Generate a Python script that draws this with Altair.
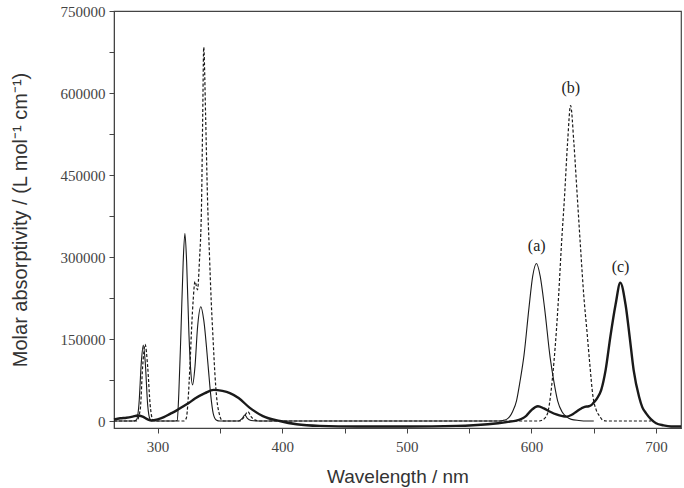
import altair as alt
import pandas as pd

# Spectrum (a): thin solid line
a_nm = [265, 280, 283, 285, 287, 288.5, 290, 292, 294, 296,
        314, 315.7, 317, 318.7, 320.5, 321.9, 323.3, 325.1, 326.5, 328, 330, 332, 334.7, 337, 340.6, 342.5, 344.6, 347, 350,
        365, 368, 370, 372, 375, 380,
        572, 577, 580, 582.5, 585, 588, 591, 594, 598, 601, 604, 607, 610.5, 615, 618, 621, 624.5, 628, 632, 638, 645, 650]
a_eps = [0, 0, 2000, 30000, 110000, 139000, 110000, 30000, 3000, 0,
         0, 1000, 50000, 161000, 290000, 343000, 290000, 161000, 95000, 66000, 100000, 170000, 209000, 185000, 99000, 50000, 14000, 2000, 0,
         0, 5000, 11000, 5000, 1000, 0,
         0, 1000, 3000, 8000, 18000, 37000, 75000, 120000, 207000, 265000, 288000, 265000, 207000, 116000, 72000, 37000, 17000, 8000, 3000, 1000, 0, 0]

# Spectrum (b): dashed line
b_nm = [265, 283, 286, 288, 290, 292, 294, 296, 298,
        321, 323, 324.5, 325.9, 327.5, 328.5, 330, 332, 333.5, 335.3, 336.2, 337, 338.5, 340, 341.5, 343, 344.5, 346, 347.5, 349.4, 351, 353,
        366, 369, 372.5, 375, 378, 382,
        606, 609, 611, 613.3, 615.5, 618, 620, 621.8, 624, 626.6, 629, 631.4, 634, 636.7, 639.3, 642, 644.5, 646.7, 649.3, 652, 654.7, 657, 660, 696]
b_eps = [0, 0, 20000, 100000, 140000, 100000, 30000, 3000, 0,
         0, 5000, 40000, 99000, 180000, 220000, 255000, 240000, 290000, 404000, 560000, 684000, 560000, 410000, 310000, 220000, 150000, 85000, 40000, 14000, 3000, 0,
         0, 6000, 17000, 8000, 2000, 0,
         0, 2000, 6000, 17000, 50000, 107000, 165000, 229000, 320000, 413000, 510000, 577000, 510000, 413000, 320000, 229000, 165000, 107000, 46000, 20000, 9000, 2000, 0, 0]

# Spectrum (c): thick solid line
c_nm = [265, 270, 275, 280, 284, 288, 292, 295, 300, 305, 310, 315, 320, 325, 330, 338, 345, 352, 358, 365, 374, 384.5, 398,
        411.5, 430, 460, 500, 540, 565, 580, 590, 593, 596, 600, 605.2, 610, 615, 620, 625, 628, 632, 636, 640, 642.7,
        646, 648, 650, 652.5, 656, 659.5, 663.3, 667.5, 671.3, 675.5, 678.8, 682, 686.4, 689, 692, 696, 700, 706, 712, 720]
c_eps = [3000, 5000, 6000, 8000, 10000, 8000, 3000, 1000, 3000, 7000, 13000, 19000, 26000, 33000, 41000, 51000, 57000, 55000, 51000, 42000, 24000, 9000, 0,
         -6000, -9000, -10000, -10000, -9000, -6000, -2000, 2000, 5000, 10000, 20000, 27000, 23000, 17000, 12000, 9000, 8000, 11000, 17000, 23000, 26000,
         27000, 29000, 34000, 41000, 57000, 93000, 154000, 213000, 253000, 213000, 154000, 93000, 44000, 25000, 14000, 3000, -4000, -8000, -10000, -10000]

# Peak labels
label_text = ["(a)", "(b)", "(c)"]
label_nm = [604.2, 631.5, 671.5]
label_eps = [320000, 609000, 281000]

x_ticks = [300, 350, 400, 450, 500, 550, 600, 650, 700]
y_ticks = [0, 75000, 150000, 225000, 300000, 375000, 450000, 525000, 600000, 675000, 750000]

X_DOMAIN = [265, 720]
Y_DOMAIN = [-12800, 750000]

df_a = pd.DataFrame({"nm": a_nm, "eps": a_eps})
df_b = pd.DataFrame({"nm": b_nm, "eps": b_eps})
df_c = pd.DataFrame({"nm": c_nm, "eps": c_eps})
df_lab = pd.DataFrame({"nm": label_nm, "eps": label_eps, "txt": label_text})

SERIF = "Liberation Serif"
SANS = "Liberation Sans"
INK = "#1a1a1a"

x_enc = alt.X(
    "nm:Q",
    scale=alt.Scale(domain=X_DOMAIN, nice=False, zero=False),
    axis=alt.Axis(
        values=x_ticks,
        labelExpr="datum.value % 100 == 0 ? datum.label : ''",
        title="Wavelength / nm",
        titleFont=SANS, titleFontSize=19, titleFontWeight="normal", titleColor="#333",
        titlePadding=13,
        labelFont=SERIF, labelFontSize=15, labelColor="#444", labelPadding=6,
        tickSize=5, tickColor="#444", domainColor="#444", grid=False,
    ),
)
y_enc = alt.Y(
    "eps:Q",
    scale=alt.Scale(domain=Y_DOMAIN, nice=False, zero=False),
    axis=alt.Axis(
        values=y_ticks,
        labelExpr="datum.value % 150000 == 0 ? format(datum.value, 'd') : ''",
        title="Molar absorptivity / (L mol⁻¹ cm⁻¹)",
        titleFont=SANS, titleFontSize=20, titleFontWeight="normal", titleColor="#333",
        titlePadding=30,
        labelFont=SERIF, labelFontSize=15, labelColor="#444", labelPadding=4,
        tickSize=5, tickColor="#444", domainColor="#444", grid=False,
    ),
)

line_a = alt.Chart(df_a).mark_line(color=INK, strokeWidth=1.1, interpolate="monotone").encode(x=x_enc, y=y_enc)
line_b = alt.Chart(df_b).mark_line(color=INK, strokeWidth=1.2, strokeDash=[3, 2], interpolate="monotone").encode(x="nm:Q", y="eps:Q")
line_c = alt.Chart(df_c).mark_line(color=INK, strokeWidth=2.4, interpolate="monotone").encode(x="nm:Q", y="eps:Q")
labels = alt.Chart(df_lab).mark_text(font=SERIF, fontSize=16, color="#222").encode(x="nm:Q", y="eps:Q", text="txt:N")

chart = (
    alt.layer(line_a, line_b, line_c, labels)
    .properties(
        width=567, height=417,
        padding={"left": 114, "top": 11, "right": 3, "bottom": 60},
        autosize=alt.AutoSizeParams(type="none"),
        background="white",
    )
    .configure_view(stroke="#444", strokeWidth=1.2)
)

chart.save("out.html", embed_options={"renderer": "svg", "actions": False})
